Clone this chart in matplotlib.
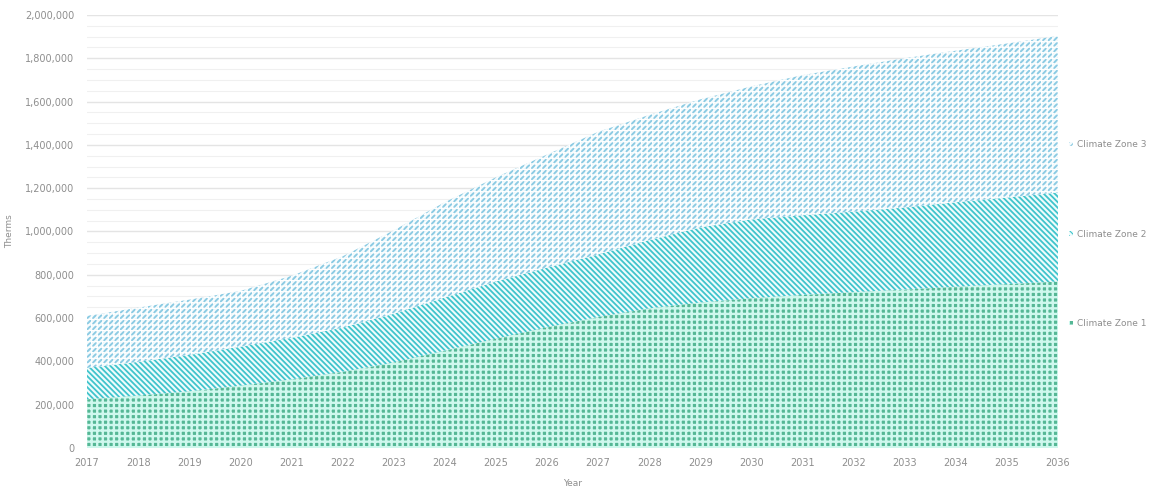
import matplotlib
matplotlib.use("Agg")
import matplotlib.pyplot as plt
import numpy as np
from matplotlib.patches import Patch
from matplotlib.ticker import FuncFormatter, MultipleLocator

years = list(range(2017, 2037))

# therms per climate zone
zone1 = [225000, 242000, 262000, 288000, 317000, 352000, 395000, 450000, 505000, 558000,
         605000, 645000, 672000, 692000, 707000, 720000, 732000, 745000, 757000, 769000]
zone2 = [145000, 156000, 168000, 180000, 192000, 204000, 225000, 245000, 264000, 275000,
         289000, 315000, 347000, 364000, 368000, 372000, 379000, 390000, 400000, 411000]
zone3 = [240000, 250000, 255000, 257000, 286000, 329000, 385000, 440000, 481000, 522000,
         566000, 578000, 591000, 614000, 647000, 670000, 689000, 700000, 711000, 723000]
zone_labels = ["Climate Zone 1", "Climate Zone 2", "Climate Zone 3"]

plt.rcParams["font.family"] = ["DejaVu Sans"]
text_grey = "#8e8e8e"

fig = plt.figure(figsize=(11.51, 4.91), dpi=100, facecolor="white")
ax = fig.add_axes([0.0756, 0.0876, 0.8436, 0.8819])

x = np.array(years)
top1 = np.array(zone1)
top2 = top1 + np.array(zone2)
top3 = top2 + np.array(zone3)

# fill styles: (face, hatch colour, hatch, hatch linewidth)
style1 = ("#55b795", "#cff8ee", "+++", 1.7)
style2 = ("#effcfc", "#40c4cc", "\\" * 6, 1.3)
style3 = ("#f5fbfd", "#8ccbe3", "/" * 6, 1.4)


def hatched(lower, upper, face, edge, hatch, lw, z):
    plt.rcParams["hatch.linewidth"] = lw
    poly = ax.fill_between(x, lower, upper, facecolor=face, edgecolor=edge,
                           hatch=hatch, linewidth=0, zorder=z)
    if hasattr(poly, "set_hatch_linewidth"):
        poly.set_hatch_linewidth(lw)
    return poly


hatched(0, top1, *style1, 2)
hatched(top1, top2, *style2, 2)
hatched(top2, top3, *style3, 2)
# white grid over zone 3 breaks the slashes into short dashes
hatched(top2, top3, "none", "#ffffff", "+++", 0.8, 3)

ax.set_xlim(2017, 2036)
ax.set_ylim(0, 2000000)
ax.set_xticks(years)
ax.yaxis.set_major_locator(MultipleLocator(200000))
ax.yaxis.set_minor_locator(MultipleLocator(50000))
ax.yaxis.set_major_formatter(FuncFormatter(lambda v, p: f"{int(v):,}"))
ax.grid(axis="y", which="major", color="#e4e4e4", linewidth=1.0, zorder=0)
ax.grid(axis="y", which="minor", color="#f0f0f0", linewidth=0.8, zorder=0)
ax.set_axisbelow(True)
for s in ax.spines.values():
    s.set_visible(False)
ax.tick_params(axis="both", which="both", length=0, labelsize=7, colors=text_grey)
ax.tick_params(axis="y", pad=9)
ax.tick_params(axis="x", pad=7)

ax.set_xlabel("Year", fontsize=6.5, color=text_grey, labelpad=8)
ax.set_ylabel("Therms", fontsize=6.5, color=text_grey, labelpad=8)

handles = [Patch(facecolor=f, edgecolor=e, hatch=h, linewidth=0)
           for f, e, h, _ in (style3, style2, style1)]
leg = fig.legend(handles, zone_labels[::-1], loc="center left",
                 bbox_to_anchor=(0.922, 0.523), frameon=False, fontsize=6.5,
                 handlelength=0.4, handleheight=0.4, handletextpad=0.5,
                 labelspacing=8.9, labelcolor=text_grey)

fig.savefig("out.png", dpi=100, facecolor="white")
